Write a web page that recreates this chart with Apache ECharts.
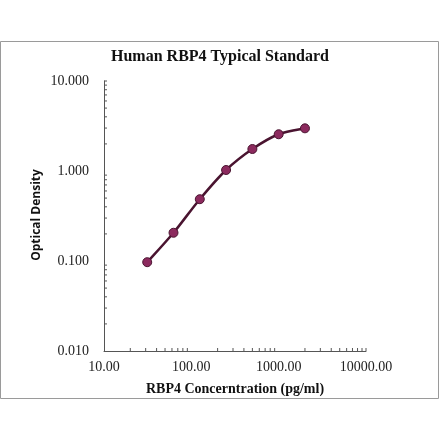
<!DOCTYPE html>
<html>
<head>
<meta charset="utf-8">
<script src="https://cdn.jsdelivr.net/npm/echarts@6/dist/echarts.min.js"></script>
<style>
  html, body { margin: 0; padding: 0; background: #fff; }
  #chart { width: 440px; height: 441px; }
</style>
</head>
<body>
<div id="chart"></div>
<script>
// standard concentrations (pg/ml) and optical density readings
var concentration = [31.25, 62.5, 125, 250, 500, 1000, 2000];
var density = [0.097, 0.206, 0.486, 1.026, 1.755, 2.56, 2.98];

// minor tick positions on the log axes
var xMinorTicks = [20, 30, 40, 50, 60, 70, 80, 90, 200, 300, 400, 500, 600, 700, 800, 900,
  2000, 3000, 4000, 5000, 6000, 7000, 8000, 9000, 10000];
var yMinorTicks = [0.02, 0.03, 0.04, 0.05, 0.06, 0.07, 0.08, 0.09, 0.2, 0.3, 0.4, 0.5, 0.6, 0.7, 0.8, 0.9,
  2, 3, 4, 5, 6, 7, 8, 9, 10];

var points = concentration.map(function (c, i) { return [c, density[i]]; });

var serif = '"Liberation Serif", "Times New Roman", serif';

// catmull-rom through pixel points -> svg path string
function curvePath(pts) {
  var d = 'M' + pts[0][0] + ' ' + pts[0][1];
  for (var i = 0; i < pts.length - 1; i++) {
    var p0 = pts[i - 1] || pts[i];
    var p1 = pts[i];
    var p2 = pts[i + 1];
    var p3 = pts[i + 2] || p2;
    var c1x = p1[0] + (p2[0] - p0[0]) / 6, c1y = p1[1] + (p2[1] - p0[1]) / 6;
    var c2x = p2[0] - (p3[0] - p1[0]) / 6, c2y = p2[1] - (p3[1] - p1[1]) / 6;
    d += ' C' + c1x + ' ' + c1y + ' ' + c2x + ' ' + c2y + ' ' + p2[0] + ' ' + p2[1];
  }
  return d;
}

option = {
  animation: false,
  title: {
    text: 'Human RBP4 Typical Standard',
    left: 'center',
    top: 44,
    textStyle: { fontFamily: serif, fontSize: 16, fontWeight: 'bold', color: '#111' }
  },
  graphic: [{
    type: 'rect',
    shape: { x: 0.5, y: 41.5, width: 438, height: 357 },
    style: { fill: 'none', stroke: '#9a9a9a', lineWidth: 1 },
    silent: true
  }, {
    type: 'text',
    x: 37,
    y: 215,
    rotation: Math.PI / 2,
    style: {
      text: 'Optical Density',
      fontFamily: '"Open Sans", sans-serif',
      fontSize: 12,
      fontWeight: 'bold',
      fill: '#111',
      align: 'center',
      verticalAlign: 'middle'
    },
    silent: true
  }],
  grid: { left: 104, right: 74, top: 81, bottom: 90 },
  xAxis: {
    type: 'log',
    logBase: 10,
    min: 10,
    max: 10000,
    name: 'RBP4 Concerntration (pg/ml)',
    nameLocation: 'middle',
    nameGap: 31,
    nameTextStyle: { fontFamily: serif, fontSize: 14, fontWeight: 'bold', color: '#111' },
    axisLine: { lineStyle: { color: '#555', width: 1 } },
    axisTick: { show: false },
    splitLine: { show: false },
    axisLabel: {
      fontFamily: serif, fontSize: 14, color: '#222', margin: 9,
      formatter: function (v) { return v.toFixed(2); }
    }
  },
  yAxis: {
    type: 'log',
    logBase: 10,
    min: 0.01,
    max: 10,
    axisLine: { show: true, lineStyle: { color: '#555', width: 1 } },
    axisTick: { show: false },
    splitLine: { show: false },
    axisLabel: {
      fontFamily: serif, fontSize: 14, color: '#222', margin: 15,
      formatter: function (v) { return v.toFixed(3); }
    }
  },
  series: [
    {
      type: 'custom',
      silent: true,
      clip: false,
      data: xMinorTicks.map(function (v) { return [v, 0.01]; }),
      renderItem: function (params, api) {
        var p = api.coord([api.value(0), api.value(1)]);
        return {
          type: 'line',
          shape: { x1: p[0], y1: p[1], x2: p[0], y2: p[1] - 3 },
          style: { stroke: '#555', lineWidth: 1 }
        };
      }
    },
    {
      type: 'custom',
      silent: true,
      clip: false,
      data: yMinorTicks.map(function (v) { return [10, v]; }),
      renderItem: function (params, api) {
        var p = api.coord([api.value(0), api.value(1)]);
        return {
          type: 'line',
          shape: { x1: p[0], y1: p[1], x2: p[0] + 3, y2: p[1] },
          style: { stroke: '#555', lineWidth: 1 }
        };
      }
    },
    {
      // smooth curve through the standards
      type: 'custom',
      silent: true,
      clip: false,
      data: points,
      renderItem: function (params, api) {
        if (params.dataIndex !== 0) return null;
        var pts = points.map(function (p) { return api.coord(p); });
        return {
          type: 'path',
          shape: { pathData: curvePath(pts) },
          style: { stroke: '#4a1430', lineWidth: 2.5, fill: null }
        };
      }
    },
    {
      type: 'scatter',
      data: points,
      symbol: 'circle',
      symbolSize: 9,
      itemStyle: { color: '#8c2a5e', borderColor: '#4a1430', borderWidth: 1, opacity: 1 }
    }
  ]
};

var chart = echarts.init(document.getElementById('chart'));
chart.setOption(option);
</script>
</body>
</html>
